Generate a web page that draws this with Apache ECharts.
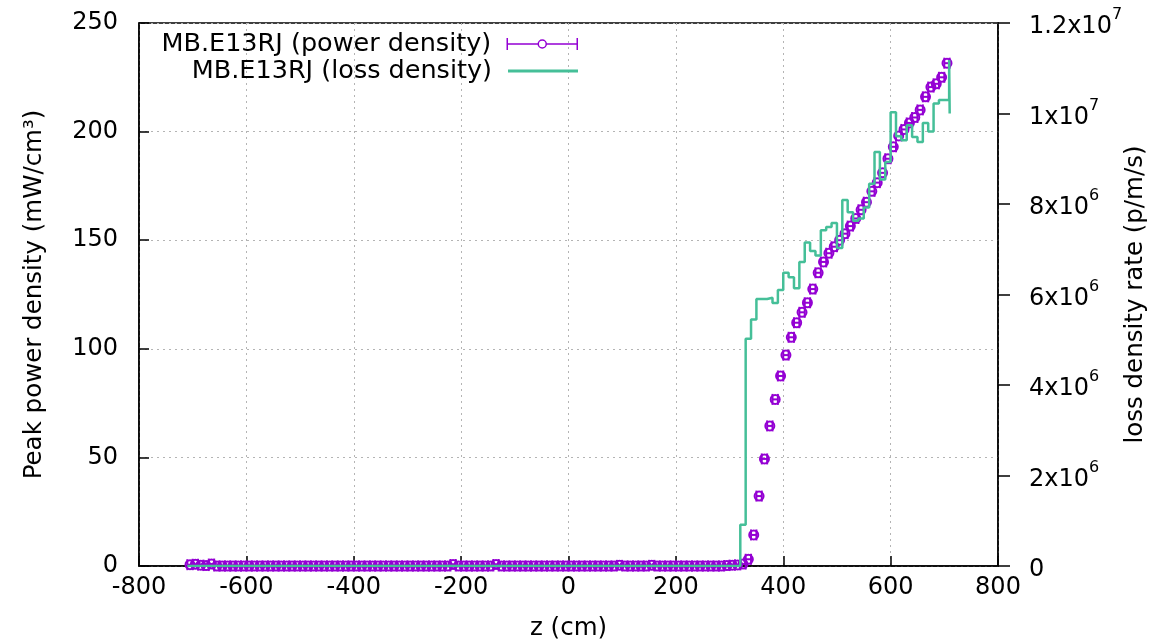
<!DOCTYPE html>
<html>
<head>
<meta charset="utf-8">
<script src="https://cdn.jsdelivr.net/npm/echarts@6/dist/echarts.min.js"></script>
<style>
html,body{margin:0;padding:0;background:#fff;}
#chart{width:1155px;height:641px;}
</style>
</head>
<body>
<div id="chart"></div>
<script>
// ---- data ----
const powerZStart = -705, powerZStep = 10;   // bin centres (cm)
const powerVals = [
  0.6,0.8,0.4,0.2,0.9,0,0,0,0,0,
  0,0,0,0,0,0,0,0,0,0,
  0,0,0,0,0,0,0,0,0,0,
  0,0,0,0,0,0,0,0,0,0,
  0,0,0,0,0,0,0,0,0,0.7,
  0,0,0,0,0,0,0,0.7,0,0,
  0,0,0,0,0,0,0,0,0,0,
  0,0,0,0,0,0,0,0,0,0,
  0.3,0,0,0,0,0,0.3,0,0,0,
  0,0,0,0,0,0,0,0,0,0,
  0.2,0.4,0.5,0.9,
  3.1,14.3,32.2,49.3,64.5,76.7,87.5,97.1,105.3,112,
  116.8,121.2,127.5,135,140,144,147,150,153,156.5,
  160,164,167.5,172.5,176.5,181,187.5,193,198,201,
  204,206.5,210,216,220.5,222,225,231.5
];
const powerErr = 5; // cm half-width
const lossZ = [-710,320,330,340,350,360,370,380,390,400,410,420,430,440,450,460,470,480,490,500,
  510,520,530,540,550,560,570,580,590,600,610,620,630,640,650,660,670,680,690,700,709,710];
const lossV = [0,0.91e6,5.02e6,5.45e6,5.9e6,5.9e6,5.93e6,5.81e6,6.1e6,6.48e6,6.38e6,6.14e6,
  6.72e6,7.15e6,6.96e6,6.86e6,7.42e6,7.49e6,7.58e6,7.03e6,8.09e6,7.82e6,
  7.63e6,7.68e6,7.92e6,8.45e6,9.15e6,8.54e6,8.93e6,10.03e6,9.5e6,9.41e6,
  9.74e6,9.48e6,9.37e6,9.79e6,9.6e6,10.22e6,10.3e6,10.3e6,11.18e6,10.0e6];
const xTicks = [-800,-600,-400,-200,0,200,400,600,800];
const y2Labels = {0:'0', 2e6:'2x10|6', 4e6:'4x10|6', 6e6:'6x10|6', 8e6:'8x10|6', 1e7:'1x10|7', 1.2e7:'1.2x10|7'};
const nameP = 'MB.E13RJ (power density)';
const nameL = 'MB.E13RJ (loss density)';

// ---- build ----
const FONT = 'DejaVu Sans';
const FS = 24;
const FSN = 24.5;
const FSL = 25.5;
const PURPLE = '#9400d3';
const GREEN = '#45bf98';
const powerData = powerVals.map((v, i) => [powerZStart + i * powerZStep, v]);
const lossData = lossZ.map((z, i) => [z, lossV[i]]);

const chart = echarts.init(document.getElementById('chart'), null, {renderer: 'canvas'});
const option = {
  backgroundColor: '#fff',
  animation: false,
  grid: {left: 139, right: 157, top: 23, bottom: 75, show: true, borderColor: '#000', borderWidth: 1.5,
         backgroundColor: 'transparent', containLabel: false, outerBoundsMode: 'none'},
  legend: [
    {
      data: [{name: nameP, icon: 'path://M0,0L0,12M0,6L31,6M39,6L70,6M70,0L70,12M31,6A4,4,0,1,0,39,6A4,4,0,1,0,31,6',
              itemStyle: {color: 'rgba(0,0,0,0)', borderColor: PURPLE, borderWidth: 1.5}}],
      right: 577, top: 31, padding: 0, align: 'right', orient: 'vertical',
      itemWidth: 70, itemHeight: 12, selectedMode: false,
      textStyle: {fontFamily: FONT, fontSize: FSL, color: '#000', padding: [0, 11, 0, 0]}
    },
    {
      data: [{name: nameL, icon: 'rect', itemStyle: {color: GREEN, borderWidth: 0}}],
      right: 577, top: 58, padding: 0, align: 'right', orient: 'vertical',
      itemWidth: 70, itemHeight: 3, selectedMode: false,
      textStyle: {fontFamily: FONT, fontSize: FSL, color: '#000', padding: [0, 11, 0, 0]}
    }
  ],
  xAxis: {
    type: 'value', min: -800, max: 800, interval: 200,
    name: 'z (cm)', nameLocation: 'middle', nameGap: 50, nameMoveOverlap: false,
    nameTextStyle: {fontFamily: FONT, fontSize: FSN, color: '#000'},
    axisLine: {show: true, onZero: false, lineStyle: {color: '#000', width: 1.5}},
    axisTick: {show: true, inside: true, length: 10, lineStyle: {color: '#000', width: 1.5}},
    axisLabel: {fontFamily: FONT, fontSize: FS, color: '#000', margin: 10,
      formatter: v => xTicks.indexOf(v) >= 0 ? String(v) : ''},
    splitLine: {show: true, lineStyle: {color: '#b4b4b4', width: 1, type: [2, 4]}}
  },
  yAxis: [
    {
      type: 'value', min: 0, max: 250, interval: 50, position: 'left',
      name: 'Peak power density (mW/cm³)', nameLocation: 'middle', nameGap: 92, nameRotate: 90,
      nameMoveOverlap: false,
      nameTextStyle: {fontFamily: FONT, fontSize: FSN, color: '#000'},
      axisLine: {show: true, onZero: false, lineStyle: {color: '#000', width: 1.5}},
      axisTick: {show: true, inside: true, length: 10, lineStyle: {color: '#000', width: 1.5}},
      axisLabel: {fontFamily: FONT, fontSize: FS, color: '#000', margin: 21},
      splitLine: {show: true, lineStyle: {color: '#b4b4b4', width: 1, type: [2, 4]}}
    },
    {
      type: 'value', min: 0, max: 1.2e7, interval: 2e6, position: 'right',
      name: 'loss density rate (p/m/s)', nameLocation: 'middle', nameGap: 125, nameRotate: 90,
      nameMoveOverlap: false,
      nameTextStyle: {fontFamily: FONT, fontSize: FSN, color: '#000'},
      axisLine: {show: true, onZero: false, lineStyle: {color: '#000', width: 1.5}},
      axisTick: {show: true, inside: false, length: 12, lineStyle: {color: '#000', width: 1.5}},
      axisLabel: {
        fontFamily: FONT, fontSize: FS, color: '#000', margin: 31, align: 'left',
        formatter: v => {
          const s = y2Labels[v];
          if (s === undefined) return '';
          const p = s.split('|');
          return p.length === 1 ? '{b|' + p[0] + '}' : '{b|' + p[0] + '}{s|' + p[1] + '}';
        },
        rich: {
          b: {fontFamily: FONT, fontSize: FS, color: '#000', lineHeight: 32, verticalAlign: 'bottom'},
          s: {fontFamily: FONT, fontSize: 16, color: '#000', verticalAlign: 'top'}
        }
      },
      splitLine: {show: false}
    }
  ],
  series: [
    {
      name: nameP, type: 'custom', xAxisIndex: 0, yAxisIndex: 0, z: 2,
      itemStyle: {color: PURPLE},
      data: powerData,
      renderItem: function (params, api) {
        const z = api.value(0), v = api.value(1);
        const c = api.coord([z, v]);
        const l = api.coord([z - powerErr, v])[0];
        const r = api.coord([z + powerErr, v])[0];
        const cap = 5.5, rad = 4.5;
        const st = {stroke: PURPLE, lineWidth: 2, fill: null};
        return {
          type: 'group',
          children: [
            {type: 'line', shape: {x1: l, y1: c[1], x2: r, y2: c[1]}, style: st},
            {type: 'line', shape: {x1: l, y1: c[1] - cap, x2: l, y2: c[1] + cap}, style: st},
            {type: 'line', shape: {x1: r, y1: c[1] - cap, x2: r, y2: c[1] + cap}, style: st},
            {type: 'circle', shape: {cx: c[0], cy: c[1], r: rad}, style: {stroke: PURPLE, lineWidth: 2, fill: 'rgba(0,0,0,0)'}}
          ]
        };
      }
    },
    {
      name: nameL, type: 'line', xAxisIndex: 0, yAxisIndex: 1, z: 3,
      step: 'end', showSymbol: false, symbol: 'none',
      itemStyle: {color: GREEN},
      lineStyle: {color: GREEN, width: 2.5},
      data: lossData
    }
  ]
};
chart.setOption(option);
</script>
</body>
</html>
